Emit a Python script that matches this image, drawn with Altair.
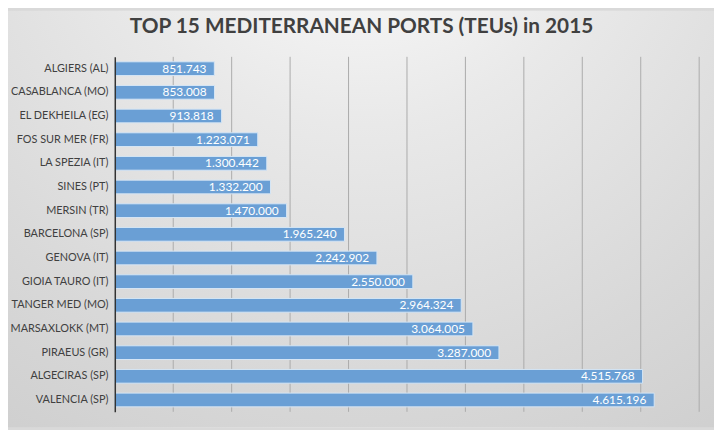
import altair as alt
import pandas as pd

ports = ["ALGIERS (AL)", "CASABLANCA (MO)", "EL DEKHEILA (EG)", "FOS SUR MER (FR)",
         "LA SPEZIA (IT)", "SINES (PT)", "MERSIN (TR)", "BARCELONA (SP)", "GENOVA (IT)",
         "GIOIA TAURO (IT)", "TANGER MED (MO)", "MARSAXLOKK (MT)", "PIRAEUS (GR)",
         "ALGECIRAS (SP)", "VALENCIA (SP)"]
teus = [851743, 853008, 913818, 1223071, 1300442, 1332200, 1470000, 1965240, 2242902,
        2550000, 2964324, 3064005, 3287000, 4515768, 4615196]
grid_ticks = [500000, 1000000, 1500000, 2000000, 2500000, 3000000, 3500000, 4000000,
              4500000, 5000000]

W, H = 591, 359
PAD = {"left": 108, "top": 47, "right": 15, "bottom": 16}

df = pd.DataFrame({"port": ports, "teus": teus,
                   "label": [f"{v:,}".replace(",", ".") for v in teus]})
gdf = pd.DataFrame({"t": grid_ticks})

xscale = alt.Scale(domain=[0, 5000000], nice=False)

bg = alt.Chart(pd.DataFrame({"a": [0]})).mark_rect(
    color=alt.Gradient(
        gradient="radial", x1=0.5, y1=0.0, r1=0, x2=0.5, y2=0.0, r2=1.05,
        stops=[alt.GradientStop(offset=0, color="#ffffff"),
               alt.GradientStop(offset=0.35, color="#e9e9e9"),
               alt.GradientStop(offset=0.7, color="#d8d8d8"),
               alt.GradientStop(offset=1, color="#cbcbcb")])
).encode(
    x=alt.value(-PAD["left"]), x2=alt.value(W + PAD["right"]),
    y=alt.value(-PAD["top"]), y2=alt.value(H + PAD["bottom"])
)

grid = alt.Chart(gdf).mark_rule(color="#ababab", strokeWidth=1).encode(
    x=alt.X("t:Q", scale=xscale, axis=None)
)

bars = alt.Chart(df).mark_bar(color="#6a9fd5", stroke="#d6e6f5", strokeWidth=1).encode(
    y=alt.Y("port:N", sort=ports,
            scale=alt.Scale(paddingInner=0.42, paddingOuter=0.21),
            axis=alt.Axis(title=None, domain=True, domainColor="#333333", domainWidth=1.5,
                          ticks=False, labelPadding=7, labelFont="Lato", labelFontSize=11,
                          labelColor="#404040", grid=False, zindex=1)),
    x=alt.X("teus:Q", scale=xscale, axis=None)
)

labels = alt.Chart(df).mark_text(align="right", baseline="middle", dx=-8, color="white",
                                 font="Lato", fontSize=12).encode(
    y=alt.Y("port:N", sort=ports),
    x=alt.X("teus:Q", scale=xscale),
    text="label:N"
)

chart = alt.layer(bg, grid, bars, labels).properties(
    width=W, height=H,
    padding=PAD,
    autosize=alt.AutoSizeParams(type="none"),
    title=alt.TitleParams("TOP 15 MEDITERRANEAN PORTS (TEUs) in 2015", font="Lato",
                          fontSize=21, fontWeight="bold", color="#404040",
                          anchor="middle", frame="group", baseline="alphabetic",
                          offset=-44, dx=-46)
).configure(background="#d9d9d9").configure_view(stroke=None)

chart.save("out.html", embed_options={"renderer": "svg", "actions": False})
